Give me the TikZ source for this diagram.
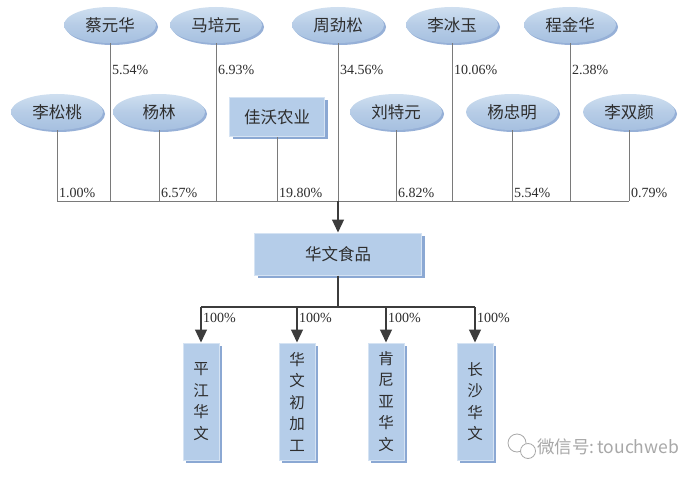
\documentclass[tikz,border=0pt]{standalone}
\usepackage{fontspec}
\setmainfont{Liberation Serif}
\newfontfamily\cjk{Noto Sans CJK SC}
\usetikzlibrary{arrows.meta, positioning, shapes.geometric, shadows}
\definecolor{ink}{HTML}{2E2E2E}
\definecolor{ink2}{HTML}{3C3C3C}
\definecolor{cline}{HTML}{7A7A7A}
\definecolor{cfill}{HTML}{A6C0E0}
\definecolor{cfillhi}{HTML}{CFDFF0}
\definecolor{cbox}{HTML}{B5CDE9}
\definecolor{cboxrim}{HTML}{D5E3F3}
\definecolor{cshadow}{HTML}{8BA8D3}
\definecolor{cmark}{HTML}{A8A8A8}

\tikzset{
  holder/.style={ellipse, minimum width=92pt, minimum height=36pt, inner sep=0pt,
    top color=cfillhi, bottom color=cfill, middle color=cfill!60!cfillhi, text=ink,
    drop shadow={shadow xshift=2pt, shadow yshift=-2pt, fill=cshadow, opacity=0.9}},
  firm/.style={rectangle, fill=cbox, draw=cboxrim, line width=1pt, text=ink, inner sep=0pt,
    drop shadow={shadow xshift=3pt, shadow yshift=-3pt, fill=cshadow, opacity=1}},
  sub/.style={firm, minimum width=36pt, minimum height=117pt, align=center,
    font=\cjk\fontsize{15.5}{21.5}\selectfont},
  link/.style={cline, line width=0.9pt},
  trunk/.style={ink2, line width=1.2pt},
  arr/.style={trunk, -{Triangle[length=13pt, width=12pt]}},
  pct/.style={anchor=west, inner sep=0pt, xshift=2pt, text=ink, font=\rmfamily\fontsize{14}{14}\selectfont}
}

\begin{document}
\begin{tikzpicture}[x=1pt, y=-1pt, font=\cjk\fontsize{16.5}{16.5}\selectfont]
  \useasboundingbox[fill=white] (0,0) rectangle (700,478);
  % rows for the shares and the joining line
  \coordinate (row1) at (0,70);
  \coordinate (row2) at (0,193);
  \coordinate (bus) at (338,201);
  \coordinate (split) at (338,307);

  % shareholders, upper row
  \foreach \n/\x/\t in {cai/110/蔡元华, ma/216/马培元, zhou/338/周劲松, libing/452/李冰玉, cheng/570/程金华}
    \node[holder] (\n) at (\x,25) {\t};
  % shareholders, lower row
  \foreach \n/\x/\t in {lisong/57/李松桃, yanglin/159/杨林, liu/396/刘特元, yangzm/512/杨忠明, lishuang/629/李双颜}
    \node[holder] (\n) at (\x,112) {\t};
  \node[firm, minimum width=95pt, minimum height=39pt] (jiawo) at (277,117) {佳沃农业};

  % holdings down to the joining line
  \foreach \n/\p in {cai/5.54, ma/6.93, zhou/34.56, libing/10.06, cheng/2.38}{
    \draw[link] (\n.south) -- (\n.south |- bus);
    \node[pct] (p-\n) at (\n.south |- row1) {\p\%};
  }
  \foreach \n/\p in {lisong/1.00, yanglin/6.57, jiawo/19.80, liu/6.82, yangzm/5.54, lishuang/0.79}{
    \draw[link] (\n.south) -- (\n.south |- bus);
    \node[pct] (p-\n) at (\n.south |- row2) {\p\%};
  }
  \draw[link] (lisong.south |- bus) -- (lishuang.south |- bus);

  % the company
  \node[firm, minimum width=167pt, minimum height=42pt] (huawen) at (338,254) {华文食品};
  \draw[arr] (bus) -- (huawen.north);

  % subsidiaries
  \foreach \n/\x/\t in {pingjiang/201/平\\江\\华\\文, chujiagong/297/华\\文\\初\\加\\工, kenya/386/肯\\尼\\亚\\华\\文, changsha/475/长\\沙\\华\\文}
    \node[sub] (\n) at (\x,401.5) {\t};
  \draw[trunk] (huawen.south) -- (split);
  \draw[trunk] (pingjiang.north |- split) -- (changsha.north |- split);
  \foreach \n in {pingjiang, chujiagong, kenya, changsha}{
    \draw[arr] (\n.north |- split) -- (\n.north);
    \node[pct] (p-\n) at ([yshift=-11pt]\n.north |- split) {100\%};
  }

  % watermark
  \draw[cmark, line width=0.8pt] (517,443) circle (9);
  \draw[cmark, line width=0.8pt, fill=white] (528,451) circle (7.5);
  \node[anchor=west, text=cmark, inner sep=0pt, font=\cjk\fontsize{17.5}{17.5}\selectfont] (mark) at (537,447) {微信号:\,touchweb};
\end{tikzpicture}
\end{document}
